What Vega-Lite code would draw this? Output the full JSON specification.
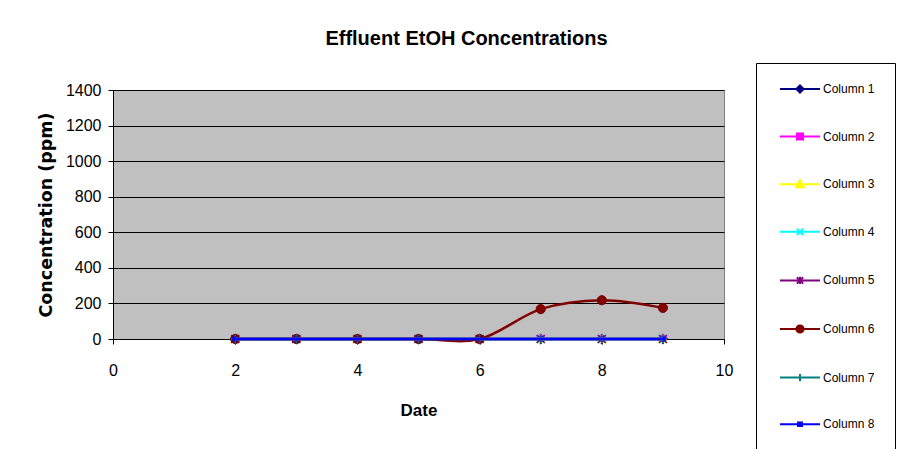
{
  "$schema": "https://vega.github.io/schema/vega-lite/v6.json",
  "width": 611,
  "height": 249,
  "autosize": {"type": "none"},
  "padding": {"left": 113, "top": 90, "right": 185, "bottom": 110},
  "background": "white",
  "title": {
    "text": "Effluent EtOH Concentrations",
    "font": "Arial",
    "fontSize": 20,
    "fontWeight": "bold",
    "color": "black",
    "anchor": "middle",
    "frame": "group",
    "dx": 48,
    "baseline": "alphabetic",
    "offset": -2
  },
  "config": {
    "view": {"fill": "#C0C0C0", "stroke": "#808080", "strokeWidth": 1},
    "font": "Arial"
  },
  "data": {
    "values": [
      {"date": 2, "series": "Column 1", "value": 0}, {"date": 3, "series": "Column 1", "value": 0}, {"date": 4, "series": "Column 1", "value": 0}, {"date": 5, "series": "Column 1", "value": 0}, {"date": 6, "series": "Column 1", "value": 0}, {"date": 7, "series": "Column 1", "value": 0}, {"date": 8, "series": "Column 1", "value": 0}, {"date": 9, "series": "Column 1", "value": 0},
      {"date": 2, "series": "Column 2", "value": 0}, {"date": 3, "series": "Column 2", "value": 0}, {"date": 4, "series": "Column 2", "value": 0}, {"date": 5, "series": "Column 2", "value": 0}, {"date": 6, "series": "Column 2", "value": 0}, {"date": 7, "series": "Column 2", "value": 0}, {"date": 8, "series": "Column 2", "value": 0}, {"date": 9, "series": "Column 2", "value": 0},
      {"date": 2, "series": "Column 3", "value": 0}, {"date": 3, "series": "Column 3", "value": 0}, {"date": 4, "series": "Column 3", "value": 0}, {"date": 5, "series": "Column 3", "value": 0}, {"date": 6, "series": "Column 3", "value": 0}, {"date": 7, "series": "Column 3", "value": 0}, {"date": 8, "series": "Column 3", "value": 0}, {"date": 9, "series": "Column 3", "value": 0},
      {"date": 2, "series": "Column 4", "value": 0}, {"date": 3, "series": "Column 4", "value": 0}, {"date": 4, "series": "Column 4", "value": 0}, {"date": 5, "series": "Column 4", "value": 0}, {"date": 6, "series": "Column 4", "value": 0}, {"date": 7, "series": "Column 4", "value": 0}, {"date": 8, "series": "Column 4", "value": 0}, {"date": 9, "series": "Column 4", "value": 0},
      {"date": 2, "series": "Column 5", "value": 0}, {"date": 3, "series": "Column 5", "value": 0}, {"date": 4, "series": "Column 5", "value": 0}, {"date": 5, "series": "Column 5", "value": 0}, {"date": 6, "series": "Column 5", "value": 0}, {"date": 7, "series": "Column 5", "value": 0}, {"date": 8, "series": "Column 5", "value": 0}, {"date": 9, "series": "Column 5", "value": 0},
      {"date": 2, "series": "Column 6", "value": 0}, {"date": 3, "series": "Column 6", "value": 0}, {"date": 4, "series": "Column 6", "value": 0}, {"date": 5, "series": "Column 6", "value": 0}, {"date": 6, "series": "Column 6", "value": 0}, {"date": 7, "series": "Column 6", "value": 168}, {"date": 8, "series": "Column 6", "value": 218}, {"date": 9, "series": "Column 6", "value": 175},
      {"date": 2, "series": "Column 7", "value": 0}, {"date": 3, "series": "Column 7", "value": 0}, {"date": 4, "series": "Column 7", "value": 0}, {"date": 5, "series": "Column 7", "value": 0}, {"date": 6, "series": "Column 7", "value": 0}, {"date": 7, "series": "Column 7", "value": 0}, {"date": 8, "series": "Column 7", "value": 0}, {"date": 9, "series": "Column 7", "value": 0},
      {"date": 2, "series": "Column 8", "value": 0}, {"date": 3, "series": "Column 8", "value": 0}, {"date": 4, "series": "Column 8", "value": 0}, {"date": 5, "series": "Column 8", "value": 0}, {"date": 6, "series": "Column 8", "value": 0}, {"date": 7, "series": "Column 8", "value": 0}, {"date": 8, "series": "Column 8", "value": 0}, {"date": 9, "series": "Column 8", "value": 0}
    ]
  },
  "encoding": {
    "x": {
      "field": "date",
      "type": "quantitative",
      "scale": {"domain": [0, 10], "nice": false, "zero": false},
      "axis": {
        "values": [0, 2, 4, 6, 8, 10],
        "grid": false,
        "labelFlush": false,
        "domainColor": "black",
        "tickColor": "black",
        "tickSize": 5,
        "labelFont": "Arial",
        "labelFontSize": 16,
        "labelColor": "black",
        "labelPadding": 18,
        "title": "Date",
        "titleFont": "Arial",
        "titleFontSize": 17,
        "titleFontWeight": "bold",
        "titleColor": "black",
        "titlePadding": 24
      }
    },
    "y": {
      "field": "value",
      "type": "quantitative",
      "scale": {"domain": [0, 1400], "nice": false},
      "axis": {
        "values": [0, 200, 400, 600, 800, 1000, 1200, 1400],
        "format": "d",
        "grid": true,
        "labelFlush": false,
        "gridColor": "black",
        "gridWidth": 1,
        "gridOpacity": 1,
        "domainColor": "black",
        "tickColor": "black",
        "tickSize": 5,
        "labelFont": "Arial",
        "labelFontSize": 16,
        "labelColor": "black",
        "labelPadding": 7,
        "title": "Concentration (ppm)",
        "titleFont": "DejaVu Sans",
        "titleFontSize": 17.5,
        "titleFontWeight": "bold",
        "titleColor": "black",
        "titlePadding": 10
      }
    }
  },
  "layer": [
    {"transform": [{"filter": "datum.series === 'Column 1'"}], "mark": {"type": "point", "shape": "M0,-1.1L1.1,0L0,1.1L-1.1,0Z", "filled": true, "fill": "#000080", "stroke": "#000080", "strokeWidth": 1.5, "size": 64, "opacity": 1}},
    {"transform": [{"filter": "datum.series === 'Column 2'"}], "mark": {"type": "point", "shape": "M-0.8,-0.8H0.8V0.8H-0.8Z", "filled": true, "fill": "#FF00FF", "stroke": "#FF00FF", "strokeWidth": 1.5, "size": 64, "opacity": 1}},
    {"transform": [{"filter": "datum.series === 'Column 3'"}], "mark": {"type": "point", "shape": "M0,-1L1,0.8H-1Z", "filled": true, "fill": "#FFFF00", "stroke": "#FFFF00", "strokeWidth": 1.5, "size": 64, "opacity": 1}},
    {"transform": [{"filter": "datum.series === 'Column 4'"}], "mark": {"type": "point", "shape": "M-1,-1L1,1M-1,1L1,-1", "filled": true, "fill": "#00FFFF", "stroke": "#00FFFF", "strokeWidth": 1.5, "size": 64, "opacity": 1}},
    {"transform": [{"filter": "datum.series === 'Column 5'"}], "mark": {"type": "point", "shape": "M-1,-1L1,1M-1,1L1,-1M0,-1.1V1.1", "filled": true, "fill": "#800080", "stroke": "#800080", "strokeWidth": 1.5, "size": 64, "opacity": 1}},
    {"transform": [{"filter": "datum.series === 'Column 6'"}], "mark": {"type": "point", "shape": "M-1.15,0A1.15,1.15 0 1,0 1.15,0A1.15,1.15 0 1,0 -1.15,0Z", "filled": true, "fill": "#800000", "stroke": "#800000", "strokeWidth": 1, "size": 64, "opacity": 1}},
    {"transform": [{"filter": "datum.series === 'Column 7'"}], "mark": {"type": "point", "shape": "M-1.1,0H1.1M0,-1.1V1.1", "filled": true, "fill": "#008080", "stroke": "#008080", "strokeWidth": 1.5, "size": 64, "opacity": 1}},
    {"transform": [{"filter": "datum.series === 'Column 8'"}], "mark": {"type": "point", "shape": "M-0.6,-0.5H0.6V0.5H-0.6Z", "filled": true, "fill": "#0000FF", "stroke": "#0000FF", "strokeWidth": 1, "size": 64, "opacity": 1}},
    {
      "mark": {"type": "line", "interpolate": "cardinal", "strokeWidth": 2.5},
      "encoding": {
        "color": {
          "field": "series",
          "type": "nominal",
          "scale": {
            "domain": ["Column 1", "Column 2", "Column 3", "Column 4", "Column 5", "Column 6", "Column 7", "Column 8"],
            "range": ["#000080", "#FF00FF", "#FFFF00", "#00FFFF", "#800080", "#800000", "#008080", "#0000FF"]
          },
          "legend": {
            "orient": "none",
            "legendX": 643,
            "legendY": -27,
            "title": null,
            "padding": 20,
            "strokeColor": "black",
            "fillColor": "white",
            "rowPadding": 32.6,
            "symbolOffset": 18,
            "labelOffset": 17,
            "labelFont": "Arial",
            "labelFontSize": 12,
            "labelColor": "black",
            "symbolSize": 64,
            "symbolStrokeWidth": 2,
            "encode": {
              "symbols": {
                "update": {
                  "shape": {"signal": "['M-5,0H5M0,-0.9L0.9,0L0,0.9L-0.9,0Z','M-5,0H5M-0.75,-0.75H0.75V0.75H-0.75Z','M-5,0H5M0,-1L0.95,0.75H-0.95Z','M-5,0H5M-0.8,-0.8L0.8,0.8M-0.8,0.8L0.8,-0.8','M-5,0H5M-0.8,-0.8L0.8,0.8M-0.8,0.8L0.8,-0.8M0,-0.9V0.9','M-5,0H5M-0.9,0A0.9,0.9 0 1,0 0.9,0A0.9,0.9 0 1,0 -0.9,0Z','M-5,0H5M-0.9,0H0.9M0,-0.9V0.9','M-5,0H5M-0.5,-0.45H0.5V0.45H-0.5Z'][indexof(['Column 1','Column 2','Column 3','Column 4','Column 5','Column 6','Column 7','Column 8'], datum.value)]"},
                  "size": {"value": 64},
                  "fill": {"scale": "color", "field": "value"},
                  "stroke": {"scale": "color", "field": "value"},
                  "strokeWidth": {"value": 2},
                  "opacity": {"value": 1}
                }
              }
            }
          }
        }
      }
    }
  ]
}
